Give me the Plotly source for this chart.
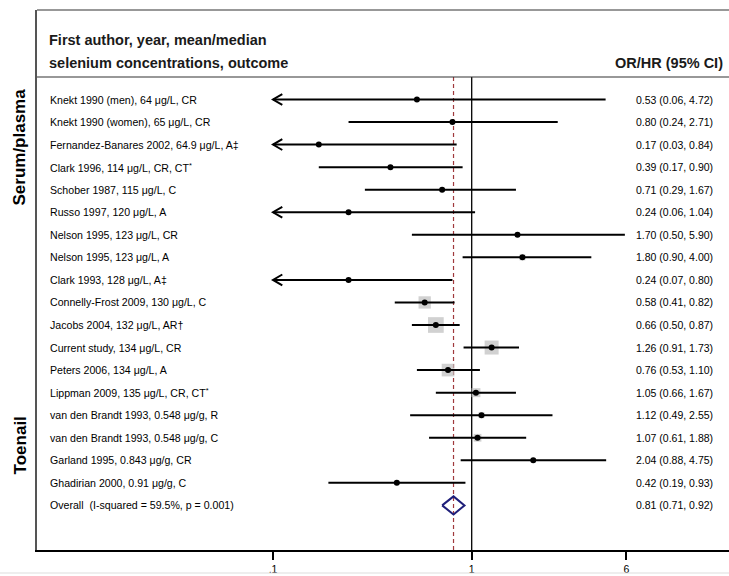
import math
import plotly.graph_objects as go

# ---------------- data ----------------
study_labels = [
    "Knekt 1990 (men), 64 μg/L, CR",
    "Knekt 1990 (women), 65 μg/L, CR",
    "Fernandez-Banares 2002, 64.9 μg/L, A‡",
    "Clark 1996, 114 μg/L, CR, CT<sup>*</sup>",
    "Schober 1987, 115 μg/L, C",
    "Russo 1997, 120 μg/L, A",
    "Nelson 1995, 123 μg/L, CR",
    "Nelson 1995, 123 μg/L, A",
    "Clark 1993, 128 μg/L, A‡",
    "Connelly-Frost 2009, 130 μg/L, C",
    "Jacobs 2004, 132 μg/L, AR†",
    "Current study, 134 μg/L, CR",
    "Peters 2006, 134 μg/L, A",
    "Lippman 2009, 135 μg/L, CR, CT<sup>*</sup>",
    "van den Brandt 1993, 0.548 μg/g, R",
    "van den Brandt 1993, 0.548 μg/g, C",
    "Garland 1995, 0.843 μg/g, CR",
    "Ghadirian 2000, 0.91 μg/g, C",
]
odds_ratio = [0.53, 0.80, 0.17, 0.39, 0.71, 0.24, 1.70, 1.80, 0.24, 0.58, 0.66, 1.26, 0.76, 1.05, 1.12, 1.07, 2.04, 0.42]
ci_low =     [0.06, 0.24, 0.03, 0.17, 0.29, 0.06, 0.50, 0.90, 0.07, 0.41, 0.50, 0.91, 0.53, 0.66, 0.49, 0.61, 0.88, 0.19]
ci_high =    [4.72, 2.71, 0.84, 0.90, 1.67, 1.04, 5.90, 4.00, 0.80, 0.82, 0.87, 1.73, 1.10, 1.67, 2.55, 1.88, 4.75, 0.93]
weights =    [0.5, 0.8, 0.4, 1.0, 1.2, 0.6, 1.0, 2.0, 0.6, 8.6, 14.0, 11.1, 9.1, 4.6, 2.0, 3.4, 1.2, 1.2]

overall_label = "Overall  (I-squared = 59.5%, p = 0.001)"
overall_or, overall_low, overall_high = 0.81, 0.71, 0.92

tick_values = [0.1, 1, 6]
tick_labels = [".1", "1", "6"]
axis_clip = 0.1

header_left = ["First author, year, mean/median", "selenium concentrations, outcome"]
header_right = "OR/HR (95% CI)"
group_labels = ["Serum/plasma", "Toenail"]
group_rows = [2.13, 15.34]

# ---------------- geometry ----------------
W, H = 729, 576
ML, MR, MT, MB = 37, 0, 10, 26
px_per_dec = 198.7
x_one_px = 471.7
row0_px, row_step = 99.5, 22.55


def row_of(py):
    return (py - row0_px) / row_step


x_range = [(ML - x_one_px) / px_per_dec, (W - MR - x_one_px) / px_per_dec]
y_range = [row_of(H - MB), row_of(MT)]
n = len(study_labels)
rows = list(range(n))
overall_row = n
top_sep = row_of(77)
plot_w = W - ML - MR


def xpaper(px):
    return (px - ML) / plot_w


fig = go.Figure()

# vertical reference lines
fig.add_trace(go.Scatter(x=[1, 1], y=[top_sep, y_range[0]], mode="lines",
                         line=dict(color="black", width=1.3), hoverinfo="skip"))
fig.add_trace(go.Scatter(x=[overall_or, overall_or], y=[top_sep, y_range[0]], mode="lines",
                         line=dict(color="#a0393c", width=1.2, dash="4px,3px"), hoverinfo="skip"))

# weight squares
fig.add_trace(go.Scatter(x=odds_ratio, y=rows, mode="markers",
                         marker=dict(symbol="square", color="#bdbdbd",
                                     size=[4.2 * math.sqrt(w) for w in weights], line=dict(width=0)),
                         hoverinfo="skip"))

# CI lines
cx, cy = [], []
ax, ay = [], []
arm = 10 ** (9.3 / px_per_dec)
for i in rows:
    lo = max(ci_low[i], axis_clip)
    cx += [lo, ci_high[i], None]
    cy += [i, i, None]
    if ci_low[i] < axis_clip:
        ax += [axis_clip * arm, axis_clip, axis_clip * arm, None]
        ay += [i - 0.24, i, i + 0.24, None]
fig.add_trace(go.Scatter(x=cx, y=cy, mode="lines", line=dict(color="black", width=2),
                         hoverinfo="skip"))
fig.add_trace(go.Scatter(x=ax, y=ay, mode="lines", line=dict(color="black", width=2),
                         hoverinfo="skip"))

# point estimates
fig.add_trace(go.Scatter(x=odds_ratio, y=rows, mode="markers",
                         marker=dict(symbol="circle", color="black", size=6),
                         hoverinfo="skip"))

# overall diamond
fig.add_trace(go.Scatter(
    x=[overall_low, overall_or, overall_high, overall_or, overall_low],
    y=[overall_row, overall_row - 0.4, overall_row, overall_row + 0.4, overall_row],
    mode="lines", line=dict(color="#1f1f7a", width=2), hoverinfo="skip"))

annotations = []
font_main = "Liberation Sans, Arial, sans-serif"
LS, RS = 10.6, 10.5
for i in rows:
    annotations.append(dict(x=xpaper(48), xref="paper", y=i, yref="y", text=study_labels[i],
                            showarrow=False, xanchor="left", yanchor="middle",
                            font=dict(size=LS, color="black")))
    annotations.append(dict(x=xpaper(634), xref="paper", y=i, yref="y",
                            text=f"{odds_ratio[i]:.2f} ({ci_low[i]:.2f}, {ci_high[i]:.2f})",
                            showarrow=False, xanchor="left", yanchor="middle",
                            font=dict(size=RS, color="black")))
annotations.append(dict(x=xpaper(48), xref="paper", y=overall_row, yref="y", text=overall_label,
                        showarrow=False, xanchor="left", yanchor="middle",
                        font=dict(size=LS, color="black")))
annotations.append(dict(x=xpaper(634), xref="paper", y=overall_row, yref="y",
                        text=f"{overall_or:.2f} ({overall_low:.2f}, {overall_high:.2f})",
                        showarrow=False, xanchor="left", yanchor="middle",
                        font=dict(size=RS, color="black")))
for k, t in enumerate(header_left):
    annotations.append(dict(x=xpaper(47), xref="paper", y=row_of(40 + 23 * k), yref="y",
                            text=f"<b>{t}</b>", showarrow=False, xanchor="left", yanchor="middle",
                            font=dict(size=14.5, color="#1a1a1a")))
annotations.append(dict(x=xpaper(725), xref="paper", y=row_of(63), yref="y",
                        text=f"<b>{header_right}</b>", showarrow=False, xanchor="right",
                        yanchor="middle", font=dict(size=14.5, color="#1a1a1a")))
for lab, r in zip(group_labels, group_rows):
    annotations.append(dict(x=xpaper(20), xref="paper", y=r, yref="y", text=f"<b>{lab}</b>",
                            showarrow=False, textangle=-90, xanchor="center", yanchor="middle",
                            font=dict(size=17, color="black")))

shapes = [
    dict(type="line", xref="paper", yref="paper", x0=0, x1=1, y0=1, y1=1,
         line=dict(color="#333", width=1.2)),
    dict(type="line", xref="paper", yref="y", x0=0, x1=1, y0=top_sep, y1=top_sep,
         line=dict(color="#333", width=1.2)),
    dict(type="line", xref="paper", yref="paper", x0=-ML / plot_w, x1=1,
         y0=-(573 - (H - MB)) / (H - MT - MB), y1=-(573 - (H - MB)) / (H - MT - MB),
         line=dict(color="#dddddd", width=1)),
]

fig.update_layout(
    width=W, height=H,
    margin=dict(l=ML, r=MR, t=MT, b=MB, pad=0),
    paper_bgcolor="white", plot_bgcolor="white",
    showlegend=False, hovermode=False,
    font=dict(family=font_main, color="black"),
    annotations=annotations, shapes=shapes,
    xaxis=dict(type="log", range=x_range, tickvals=tick_values, ticktext=tick_labels,
               ticks="outside", ticklen=8, tickwidth=1.5, tickcolor="black",
               tickfont=dict(size=10.5, color="black"), showgrid=False, zeroline=False,
               showline=True, linecolor="black", linewidth=2, fixedrange=True),
    yaxis=dict(range=y_range, showticklabels=False, ticks="", showgrid=False, zeroline=False,
               showline=True, linecolor="#555", linewidth=2, fixedrange=True),
)

fig.write_html("out.html", config={"displayModeBar": False},
               post_script="document.body.style.margin='0';document.body.style.overflow='hidden';")
